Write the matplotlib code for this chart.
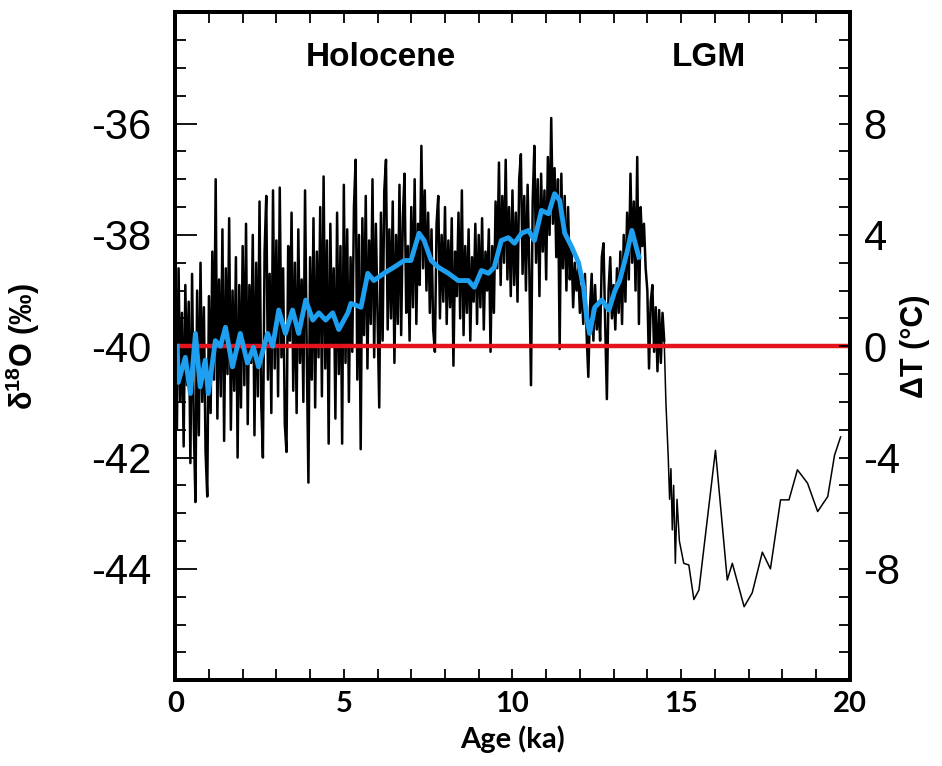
import numpy as np
import matplotlib.pyplot as plt
from matplotlib.ticker import MultipleLocator

plt.rcParams['axes.unicode_minus'] = False
plt.rcParams['mathtext.default'] = 'regular'

# NGRIP-style d18O record, 0-14.5 ka at 50-yr steps (one row per ka)
d18o_holocene = [
    -38.8, -41.5, -38.6, -41.0, -39.4, -41.8, -38.9, -40.7, -39.2, -42.1,
    -38.7, -41.4, -42.8, -39.0, -41.6, -38.5, -41.0, -39.3, -41.9, -42.7,
    -39.1, -41.2, -38.3, -40.6, -37.0, -41.3, -38.8, -40.9, -37.9, -41.7,
    -38.6, -40.5, -37.7, -41.5, -39.0, -40.8, -38.4, -42.0, -38.9, -41.1,
    -38.2, -40.7, -37.8, -41.4, -38.9, -40.3, -38.0, -41.6, -38.5, -40.9,
    -37.4, -41.0, -42.0, -38.3, -37.3, -40.6, -38.7, -41.2, -37.2, -40.4,
    -38.1, -40.9, -37.15, -40.2, -38.6, -41.4, -41.9, -38.2, -39.9, -37.6,
    -40.8, -38.5, -41.2, -37.9, -40.3, -38.8, -41.0, -37.2, -40.1, -42.45,
    -38.4, -40.6, -37.7, -41.1, -38.3, -40.2, -37.5, -40.9, -36.95, -40.4,
    -38.1, -41.75, -37.8, -40.0, -38.6, -41.3, -37.6, -40.5, -38.2, -41.75,
    -37.1, -40.3, -37.9, -41.0, -38.4, -40.1, -37.5, -36.65, -40.6, -38.0,
    -41.85, -37.7, -39.8, -37.3, -40.4, -38.1, -39.6, -37.0, -40.2, -37.8,
    -39.4, -41.1, -37.6, -39.9, -37.2, -36.65, -39.7, -37.9, -39.5, -37.4,
    -40.3, -38.0, -39.6, -37.1, -39.8, -37.7, -36.9, -39.4, -38.2, -39.9,
    -37.5, -39.3, -37.0, -39.6, -37.8, -38.9, -36.4, -38.6, -37.2, -39.0,
    -37.6, -39.4, -37.9, -39.7, -40.1, -37.8, -37.3, -39.5, -38.0, -39.2,
    -37.5, -39.6, -38.1, -39.3, -37.7, -40.35, -38.3, -39.1, -37.6, -39.5,
    -37.2, -39.8, -38.2, -39.4, -37.9, -39.9, -38.4, -39.2, -37.8, -39.6,
    -38.0, -39.3, -37.7, -39.7, -38.3, -39.0, -37.9, -40.1, -38.2, -39.4,
    -37.4, -38.6, -36.7, -38.9, -37.3, -38.5, -36.65, -38.8, -37.5, -39.1,
    -37.2, -38.9, -37.6, -39.2, -37.0, -36.55, -38.7, -37.3, -39.0, -37.1,
    -38.6, -40.7, -37.4, -36.4, -38.5, -37.0, -39.1, -36.9, -38.3, -37.2,
    -38.8, -36.6, -38.0, -35.9, -37.8, -36.8, -38.4, -37.0, -40.05, -36.9,
    -38.6, -37.3, -39.0, -37.5, -38.8, -38.2, -39.3, -38.5, -39.0, -38.6,
    -39.4, -38.9, -39.6, -38.7, -39.8, -40.55, -39.3, -38.7, -39.9, -38.9,
    -39.7, -39.2, -39.9, -38.4, -38.15, -39.6, -40.95, -39.0, -38.4, -39.5,
    -38.9, -39.7, -38.6, -39.4, -38.3, -39.6, -38.0, -39.2, -37.6, -38.8,
    -36.9, -38.5, -37.4, -39.0, -36.6, -39.6, -37.5, -38.2, -37.8, -38.6,
    -39.0, -40.4, -39.2, -38.9, -40.1, -39.3, -40.45, -39.35, -40.3, -39.4,
    -39.9,
]
age_holocene = np.arange(len(d18o_holocene)) * 0.05

# deglacial / LGM part, coarser sampling
age_lgm = [14.55, 14.62, 14.66, 14.70, 14.74, 14.78, 14.83, 14.88, 14.95,
           15.08, 15.23, 15.38, 15.53, 16.02, 16.37, 16.52, 16.87, 17.11,
           17.41, 17.65, 17.95, 18.20, 18.45, 18.75, 19.05, 19.35, 19.55,
           19.73]
d18o_lgm = [-41.0, -42.0, -42.75, -42.2, -43.3, -42.5, -43.9, -42.75, -43.5,
            -43.9, -43.93, -44.55, -44.38, -41.87, -44.2, -43.9, -44.68,
            -44.43, -43.7, -44.0, -42.76, -42.76, -42.22, -42.46, -42.97,
            -42.7, -41.96, -41.63]

# smoothed curve
age_smooth = [0.06, 0.09, 0.30, 0.45, 0.60, 0.74, 0.89, 0.98, 1.19, 1.34,
              1.49, 1.70, 1.93, 2.14, 2.32, 2.47, 2.74, 2.89, 3.07, 3.27,
              3.48, 3.66, 3.87, 4.08, 4.26, 4.46, 4.67, 4.85, 5.12,
              5.21, 5.51, 5.71, 5.89, 6.19, 6.49, 6.79, 6.99, 7.23, 7.38,
              7.59, 7.80, 8.10, 8.39, 8.69, 8.87, 9.08, 9.29, 9.46, 9.67,
              9.88, 10.06, 10.27,
              10.48, 10.65, 10.86, 11.07, 11.25, 11.40, 11.55, 11.76, 11.96,
              12.11, 12.20, 12.29, 12.44, 12.65, 12.86, 13.04, 13.18, 13.39,
              13.54, 13.75]
d18o_smooth = [-40.0, -40.65, -40.2, -40.85, -39.77, -40.73, -40.25, -40.85,
               -39.9, -40.0, -39.66, -40.37, -39.77, -40.3, -40.02, -40.37,
               -39.77, -40.0, -39.35, -39.77, -39.35, -39.77, -39.17, -39.53,
               -39.4, -39.53, -39.4, -39.7, -39.4,
               -39.23, -39.3, -38.69, -38.82, -38.69, -38.58, -38.46, -38.46,
               -37.97, -38.1, -38.46, -38.58, -38.69, -38.82, -38.82, -38.94,
               -38.64, -38.69, -38.58, -38.1, -38.05, -38.15, -37.97,
               -37.92, -38.1, -37.56, -37.62, -37.26, -37.38, -37.97, -38.22,
               -38.5, -38.94, -39.48, -39.77, -39.3, -39.17, -39.35, -39.0,
               -38.82, -38.33, -37.92, -38.4]

baseline = -40.0

fig = plt.figure(figsize=(9.42, 7.66), dpi=100)
ax = fig.add_axes([0.186, 0.112, 0.716, 0.872])

ax.plot(age_holocene, d18o_holocene, color='black', lw=1.8, zorder=2)
ax.plot(np.r_[age_holocene[-1], age_lgm], np.r_[d18o_holocene[-1], d18o_lgm],
        color='black', lw=1.1, zorder=2)
ax.axhline(baseline, color='#e3141b', lw=3.2, zorder=3)
ax.plot(age_smooth, d18o_smooth, color='#1e9ff0', lw=3.5, zorder=4)

ax.set_xlim(0, 20)
ax.set_ylim(-46, -34)
ax.xaxis.set_major_locator(MultipleLocator(5))
ax.xaxis.set_minor_locator(MultipleLocator(1))
ax.yaxis.set_minor_locator(MultipleLocator(0.5))
ax.set_yticks([-44, -42, -40, -38, -36])
ax.tick_params(axis='x', which='both', direction='in', top=True, length=8,
               width=1.3, pad=8)
ax.tick_params(axis='y', which='major', direction='in', length=16, width=1.3,
               pad=17)
ax.tick_params(axis='y', which='minor', direction='in', length=8, width=1.3)
for lab in ax.get_yticklabels():
    lab.set_fontsize(30)
    lab.set_family('Liberation Sans')
for lab in ax.get_xticklabels():
    lab.set_fontsize(21)
    lab.set_family('Lato')
    lab.set_fontweight('bold')
for sp in ax.spines.values():
    sp.set_linewidth(2.8)

ax.set_xlabel('Age (ka)', fontsize=21, family='Lato', fontweight='bold',
              labelpad=6)
ax.set_ylabel('δ$^{18}$O (‰)', fontsize=22, family='Liberation Sans',
              fontweight='bold')
ax.yaxis.set_label_coords(-0.197, 0.5)

# temperature anomaly scale on the right
ax2 = ax.twinx()
ax2.set_ylim(2 * (-46 - baseline), 2 * (-34 - baseline))
ax2.set_yticks([-8, -4, 0, 4, 8])
ax2.yaxis.set_minor_locator(MultipleLocator(1))
ax2.tick_params(axis='y', which='both', direction='in', length=8, width=1.3,
                pad=10)
for lab in ax2.get_yticklabels():
    lab.set_fontsize(30)
    lab.set_family('Liberation Sans')
ax2.set_ylabel('ΔT (°C)', fontsize=22, family='Liberation Sans',
               fontweight='bold')
ax2.yaxis.set_label_coords(1.074, 0.5)
for sp in ax2.spines.values():
    sp.set_linewidth(2.8)

ax.text(0.193, 0.955, 'Holocene', transform=ax.transAxes, fontsize=24,
        family='Liberation Sans', fontweight='bold', ha='left', va='top')
ax.text(0.736, 0.955, 'LGM', transform=ax.transAxes, fontsize=24,
        family='Liberation Sans', fontweight='bold', ha='left', va='top')

fig.savefig('out.png', dpi=100)
